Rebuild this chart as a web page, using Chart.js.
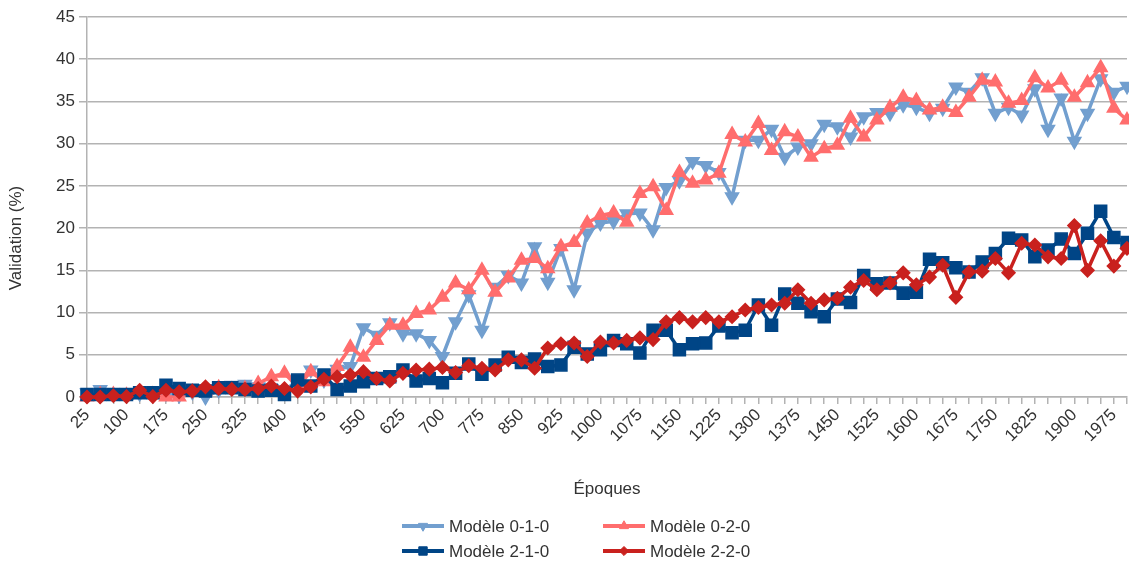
<!DOCTYPE html>
<html>
<head>
<meta charset="utf-8">
<script src="https://cdn.jsdelivr.net/npm/chart.js@4.4.1/dist/chart.umd.min.js"></script>
<style>
  html, body { margin: 0; padding: 0; background: #fff; }
  canvas { display: block; }
</style>
</head>
<body>
<canvas id="validationChart" width="1129" height="565"></canvas>
<script>
// epochs 25..2000, one point every 25 epochs
var epochs = [25, 50, 75, 100, 125, 150, 175, 200, 225, 250, 275, 300, 325, 350, 375, 400,
  425, 450, 475, 500, 525, 550, 575, 600, 625, 650, 675, 700, 725, 750, 775, 800,
  825, 850, 875, 900, 925, 950, 975, 1000, 1025, 1050, 1075, 1100, 1125, 1150, 1175, 1200,
  1225, 1250, 1275, 1300, 1325, 1350, 1375, 1400, 1425, 1450, 1475, 1500, 1525, 1550, 1575, 1600,
  1625, 1650, 1675, 1700, 1725, 1750, 1775, 1800, 1825, 1850, 1875, 1900, 1925, 1950, 1975, 2000];

var yTicks = [0, 5, 10, 15, 20, 25, 30, 35, 40, 45];

var modele010 = [0.5, 0.9, 0.4, 0.3, 0.4, 0.3, 0.4, 0.2, 0.6, 0.0, 0.8, 1.4, 1.5, 1.2, 1.0, 0.9,
  1.8, 3.2, 2.0, 3.3, 3.6, 8.2, 7.3, 8.8, 7.5, 7.5, 6.7, 4.8, 8.9, 12.1, 7.9, 13.0,
  14.4, 13.5, 17.8, 13.6, 17.6, 12.7, 19.4, 20.6, 20.8, 21.7, 21.8, 19.8, 24.8, 25.6, 27.9, 27.4,
  26.6, 23.7, 30.4, 30.4, 31.7, 28.4, 29.6, 30.0, 32.3, 32.0, 30.8, 33.2, 33.7, 33.6, 34.6, 34.3,
  33.6, 34.2, 36.7, 36.1, 37.8, 33.6, 34.3, 33.4, 36.5, 31.7, 35.4, 30.3, 33.6, 37.7, 36.1, 36.8];

var modele020 = [0.0, 0.3, 0.3, 0.2, 0.4, 0.3, 0.0, 0.0, 0.6, 0.7, 1.1, 0.9, 1.0, 1.6, 2.4, 2.8,
  1.2, 3.0, 1.8, 3.6, 5.9, 4.7, 6.7, 8.5, 8.5, 9.9, 10.3, 11.8, 13.5, 12.7, 15.0, 12.4,
  14.1, 16.2, 16.4, 15.2, 17.8, 18.3, 20.6, 21.5, 21.8, 20.7, 24.1, 24.9, 22.1, 26.6, 25.3, 25.7,
  26.5, 31.1, 30.2, 32.4, 29.2, 31.4, 30.8, 28.4, 29.4, 29.8, 33.0, 30.8, 32.8, 34.3, 35.5, 35.1,
  34.0, 34.3, 33.7, 35.5, 37.5, 37.3, 34.8, 35.1, 37.8, 36.6, 37.5, 35.5, 37.2, 39.0, 34.2, 32.8];

var modele210 = [0.3, 0.3, 0.3, 0.3, 0.5, 0.5, 1.4, 1.0, 0.8, 0.7, 1.1, 1.1, 0.9, 0.7, 0.8, 0.3,
  2.0, 1.3, 2.6, 0.9, 1.3, 1.8, 2.2, 2.4, 3.2, 1.9, 2.2, 1.7, 2.8, 3.9, 2.7, 3.8,
  4.7, 4.1, 4.5, 3.6, 3.8, 5.9, 5.1, 5.6, 6.7, 6.3, 5.2, 7.9, 7.9, 5.6, 6.3, 6.4,
  8.4, 7.6, 7.9, 10.9, 8.5, 12.2, 11.1, 10.1, 9.5, 11.6, 11.2, 14.4, 13.4, 13.5, 12.3, 12.4,
  16.3, 15.9, 15.3, 14.8, 16.0, 17.0, 18.8, 18.6, 16.6, 17.4, 18.7, 17.0, 19.4, 22.0, 18.9, 18.3];

var modele220 = [0.0, 0.0, 0.15, 0.05, 0.8, 0.05, 0.8, 0.6, 0.7, 1.2, 1.0, 0.9, 0.9, 1.0, 1.3, 1.0,
  0.7, 1.2, 2.1, 2.4, 2.6, 3.0, 2.2, 1.9, 2.8, 3.2, 3.3, 3.5, 2.9, 3.7, 3.4, 3.2,
  4.4, 4.4, 3.4, 5.8, 6.3, 6.4, 4.8, 6.5, 6.4, 6.7, 7.0, 6.8, 8.9, 9.4, 8.9, 9.4,
  8.9, 9.5, 10.3, 10.6, 10.9, 11.1, 12.7, 11.1, 11.5, 11.7, 13.0, 13.8, 12.7, 13.5, 14.7, 13.3,
  14.2, 15.6, 11.8, 14.8, 14.9, 16.4, 14.7, 18.2, 18.0, 16.6, 16.4, 20.3, 15.0, 18.5, 15.5, 17.6];

var FONT = '"Liberation Sans", Arial, sans-serif';
var TEXT = '#333333';
var GRID = '#b3b3b3';

function series(label, data, color, style, radius, rotation, order) {
  return {
    label: label,
    data: data,
    borderColor: color,
    backgroundColor: color,
    borderWidth: 3.5,
    tension: 0,
    pointStyle: style,
    pointRadius: radius,
    pointRotation: rotation,
    pointBorderColor: color,
    pointBackgroundColor: color,
    pointBorderWidth: 1.5,
    clip: false,
    order: order
  };
}

// legend in two columns plus the y axis title, drawn by hand
var extras = {
  id: 'extras',
  afterDraw: function (chart) {
    var ctx = chart.ctx;
    ctx.save();
    ctx.font = '17px ' + FONT;
    ctx.fillStyle = TEXT;
    ctx.textBaseline = 'middle';

    // y title
    ctx.save();
    ctx.translate(16, 238);
    ctx.rotate(-Math.PI / 2);
    ctx.textAlign = 'center';
    ctx.fillText('Validation (%)', 0, 0);
    ctx.restore();

    var cols = [402, 603];
    var rows = [526, 551];
    var slots = [[0, 0], [1, 0], [0, 1], [1, 1]];
    chart.data.datasets.forEach(function (ds, i) {
      var x = cols[slots[i][0]];
      var y = rows[slots[i][1]];
      ctx.strokeStyle = ds.borderColor;
      ctx.lineWidth = 4;
      ctx.beginPath();
      ctx.moveTo(x, y);
      ctx.lineTo(x + 42, y);
      ctx.stroke();
      ctx.fillStyle = ds.borderColor;
      ctx.lineWidth = 1;
      Chart.helpers.drawPoint(ctx, {
        pointStyle: ds.pointStyle,
        radius: ds.pointRadius * 0.7,
        rotation: ds.pointRotation,
        borderWidth: 1
      }, x + 21, y);
      ctx.fillStyle = TEXT;
      ctx.textAlign = 'left';
      ctx.fillText(ds.label, x + 47, y + 1);
    });
    ctx.restore();
  }
};

var ctx = document.getElementById('validationChart').getContext('2d');

var chart = new Chart(ctx, {
  type: 'line',
  data: {
    labels: epochs,
    datasets: [
      series('Modèle 0-1-0', modele010, '#729fcf', 'triangle', 7.5, 180, 4),
      series('Modèle 0-2-0', modele020, '#ff6d6d', 'triangle', 7.5, 0, 3),
      series('Modèle 2-1-0', modele210, '#004586', 'rect', 8.5, 0, 2),
      series('Modèle 2-2-0', modele220, '#c9211e', 'rectRot', 6.5, 0, 1)
    ]
  },
  options: {
    responsive: false,
    animation: false,
    events: [],
    layout: { autoPadding: false, padding: { top: 17, right: 2, bottom: 65, left: 0 } },
    plugins: {
      legend: { display: false },
      tooltip: { enabled: false }
    },
    scales: {
      x: {
        type: 'category',
        offset: false,
        grid: { drawOnChartArea: false, drawTicks: true, tickLength: 7, color: GRID, lineWidth: 1.5 },
        border: { display: true, color: GRID, width: 1.5 },
        ticks: {
          autoSkip: false,
          minRotation: 45,
          maxRotation: 45,
          padding: 1,
          color: TEXT,
          font: { family: FONT, size: 17 },
          callback: function (val, i) {
            return i % 3 === 0 ? this.getLabelForValue(val) : '';
          }
        },
        title: {
          display: true,
          text: 'Époques',
          color: TEXT,
          font: { family: FONT, size: 17 },
          padding: { top: 0, bottom: 0 }
        },
        afterFit: function (s) {
          s.height = 103;
          s.paddingRight = 0;
          s.paddingLeft = 0;
        }
      },
      y: {
        min: 0,
        max: 45,
        afterBuildTicks: function (s) {
          s.ticks = yTicks.map(function (v) { return { value: v }; });
        },
        grid: { color: GRID, lineWidth: 1.5, tickLength: 8 },
        border: { display: true, color: GRID, width: 1.5 },
        ticks: {
          padding: 4,
          color: TEXT,
          font: { family: FONT, size: 17 }
        },
        afterFit: function (s) {
          s.width = 87;
        }
      }
    }
  },
  plugins: [extras]
});
</script>
</body>
</html>
